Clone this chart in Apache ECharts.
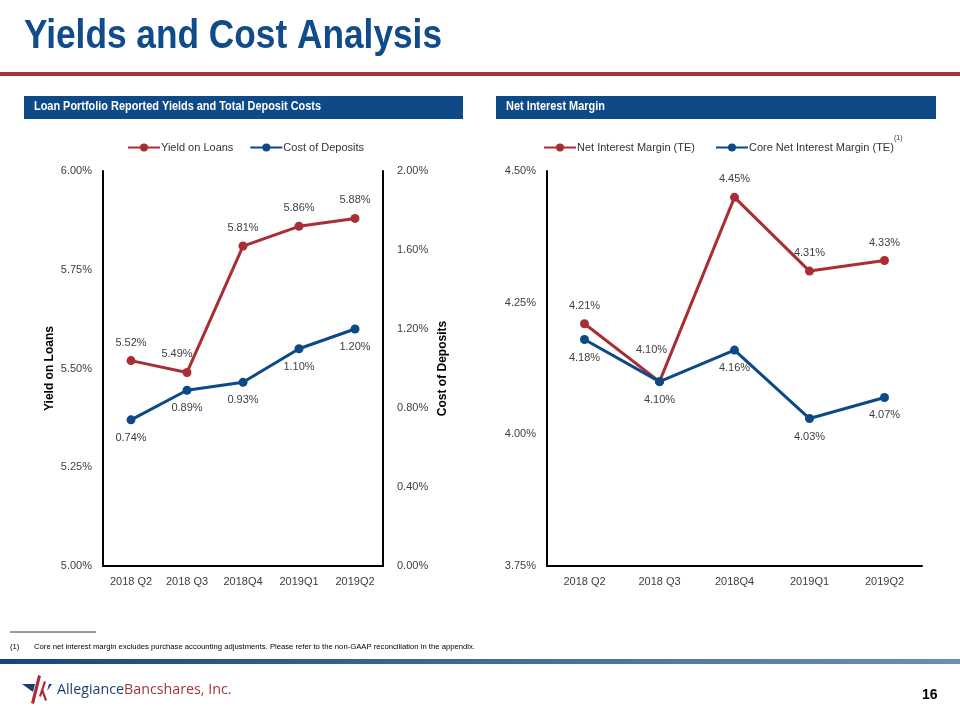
<!DOCTYPE html>
<html>
<head>
<meta charset="utf-8">
<script src="https://cdn.jsdelivr.net/npm/echarts@6/dist/echarts.min.js"></script>
<style>
html,body{margin:0;padding:0;background:#fff;}
#c{width:960px;height:720px;}
</style>
</head>
<body>
<div id="c"></div>
<script>
// ---- data ----
const quarters = ['2018 Q2', '2018 Q3', '2018Q4', '2019Q1', '2019Q2'];
const yieldOnLoans = [5.52, 5.49, 5.81, 5.86, 5.88];
const costOfDeposits = [0.74, 0.89, 0.93, 1.10, 1.20];
const nimTE = [4.21, 4.10, 4.45, 4.31, 4.33];
const coreNimTE = [4.18, 4.10, 4.16, 4.03, 4.07];

const RED = '#a92d35';
const BLUE = '#0b4a86';
const NAVY = '#0d4a87';
const FONT = '"Liberation Sans", Arial, sans-serif';
const NARROW = '"Liberation Sans Narrow", "Arial Narrow", "Liberation Sans", Arial, sans-serif';

const pct = p => p.value.toFixed(2) + '%';
const axisLabel = { color: '#404040', fontSize: 11, fontFamily: FONT };
const lbl = (pos, extra) => Object.assign({ show: true, position: pos, distance: 8, formatter: pct, color: '#404040', fontSize: 11, fontFamily: FONT }, extra || {});

function catAxis(gi) {
  return {
    type: 'category', gridIndex: gi, data: quarters, boundaryGap: true,
    axisLine: { show: true, lineStyle: { color: '#000', width: 2 } },
    axisTick: { show: false },
    axisLabel: Object.assign({ margin: 10 }, axisLabel)
  };
}

const chart = echarts.init(document.getElementById('c'));
chart.setOption({
  animation: false,
  textStyle: { fontFamily: FONT },
  grid: [
    { left: 103, right: 577, top: 171, bottom: 154 },
    { left: 547, right: 38, top: 171, bottom: 154 }
  ],
  legend: [
    { data: ['Yield on Loans', 'Cost of Deposits'], left: 122, top: 137, itemWidth: 32, itemHeight: 10, itemGap: 16,
      textStyle: { color: '#333', fontSize: 11, fontFamily: FONT, padding: [0, 0, 0, -4] } },
    { data: ['Net Interest Margin (TE)', 'Core Net Interest Margin (TE)'], left: 538, top: 137, itemWidth: 32, itemHeight: 10, itemGap: 20,
      textStyle: { color: '#333', fontSize: 11, fontFamily: FONT, padding: [0, 0, 0, -4] } }
  ],
  xAxis: [catAxis(0), catAxis(1)],
  yAxis: [
    { type: 'value', gridIndex: 0, min: 5, max: 6, interval: 0.25, position: 'left',
      name: 'Yield on Loans', nameLocation: 'middle', nameGap: 47, nameRotate: 90,
      nameTextStyle: { fontWeight: 'bold', fontSize: 12, color: '#000', fontFamily: NARROW },
      axisLine: { show: true, lineStyle: { color: '#000', width: 2 } }, axisTick: { show: false }, splitLine: { show: false },
      axisLabel: Object.assign({ margin: 11, formatter: v => v.toFixed(2) + '%' }, axisLabel) },
    { type: 'value', gridIndex: 0, min: 0, max: 2, interval: 0.4, position: 'right',
      name: 'Cost of Deposits', nameLocation: 'middle', nameGap: 54, nameRotate: 90,
      nameTextStyle: { fontWeight: 'bold', fontSize: 12, color: '#000', fontFamily: NARROW },
      axisLine: { show: true, lineStyle: { color: '#000', width: 2 } }, axisTick: { show: false }, splitLine: { show: false },
      axisLabel: Object.assign({ margin: 14, formatter: v => v.toFixed(2) + '%' }, axisLabel) },
    { type: 'value', gridIndex: 1, min: 3.75, max: 4.5, interval: 0.25, position: 'left',
      axisLine: { show: true, lineStyle: { color: '#000', width: 2 } }, axisTick: { show: false }, splitLine: { show: false },
      axisLabel: Object.assign({ margin: 11, formatter: v => v.toFixed(2) + '%' }, axisLabel) }
  ],
  series: [
    { name: 'Yield on Loans', type: 'line', xAxisIndex: 0, yAxisIndex: 0, data: yieldOnLoans,
      symbol: 'circle', symbolSize: 9, lineStyle: { color: RED, width: 3 }, itemStyle: { color: RED },
      label: lbl('top'),
      labelLayout: function (p) { return p.dataIndex === 1 ? { dx: -10 } : {}; }, z: 3 },
    { name: 'Cost of Deposits', type: 'line', xAxisIndex: 0, yAxisIndex: 1, data: costOfDeposits,
      symbol: 'circle', symbolSize: 9, lineStyle: { color: BLUE, width: 3 }, itemStyle: { color: BLUE },
      label: lbl('bottom'), z: 4 },
    { name: 'Net Interest Margin (TE)', type: 'line', xAxisIndex: 1, yAxisIndex: 2, data: nimTE,
      symbol: 'circle', symbolSize: 9, lineStyle: { color: RED, width: 3 }, itemStyle: { color: RED },
      label: lbl('top'),
      labelLayout: function (p) { return p.dataIndex === 1 ? { dy: -14, dx: -8 } : {}; }, z: 3 },
    { name: 'Core Net Interest Margin (TE)', type: 'line', xAxisIndex: 1, yAxisIndex: 2, data: coreNimTE,
      symbol: 'circle', symbolSize: 9, lineStyle: { color: BLUE, width: 3 }, itemStyle: { color: BLUE },
      label: lbl('bottom'), z: 4 }
  ],
  graphic: [
    { type: 'text', x: 24, y: 16, scaleX: 0.86, style: { text: 'Yields and Cost Analysis', fill: '#104b8a', font: 'bold 41px ' + NARROW } },
    { type: 'rect', shape: { x: 0, y: 72, width: 960, height: 4 }, style: { fill: '#a5333a' } },
    { type: 'rect', shape: { x: 24, y: 96, width: 439, height: 23 }, style: { fill: NAVY } },
    { type: 'text', x: 34, y: 101, scaleX: 0.91, style: { text: 'Loan Portfolio Reported Yields and Total Deposit Costs', fill: '#fff', font: 'bold 12px ' + NARROW } },
    { type: 'rect', shape: { x: 496, y: 96, width: 440, height: 23 }, style: { fill: NAVY } },
    { type: 'text', x: 506, y: 101, scaleX: 0.91, style: { text: 'Net Interest Margin', fill: '#fff', font: 'bold 12px ' + NARROW } },
    { type: 'text', x: 894, y: 135, style: { text: '(1)', fill: '#333', font: '7px ' + FONT } },
    { type: 'line', shape: { x1: 10, y1: 632, x2: 96, y2: 632 }, style: { stroke: '#000', lineWidth: 0.8 } },
    { type: 'text', x: 10, y: 643, style: { text: '(1)', fill: '#000', font: '7.7px ' + FONT } },
    { type: 'text', x: 34, y: 643, style: { text: 'Core net interest margin excludes purchase accounting adjustments. Please refer to the non-GAAP reconciliation in the appendix.', fill: '#000', font: '7.7px ' + FONT } },
    { type: 'rect', shape: { x: 0, y: 659, width: 960, height: 5 },
      style: { fill: new echarts.graphic.LinearGradient(0, 0, 1, 0, [{ offset: 0, color: '#174777' }, { offset: 1, color: '#6a8fb3' }]) } },
    // logo mark
    { type: 'polygon', shape: { points: [[22, 684], [35, 684], [33, 692]] }, style: { fill: '#1d3f6e' } },
    { type: 'polygon', shape: { points: [[38, 675], [41, 676], [34, 704], [31, 703]] }, style: { fill: RED } },
    { type: 'polygon', shape: { points: [[44, 681], [46, 682], [41, 697], [39, 696]] }, style: { fill: RED } },
    { type: 'polygon', shape: { points: [[41, 690], [43, 689], [47, 700], [45, 701]] }, style: { fill: RED } },
    { type: 'polygon', shape: { points: [[49, 684], [52, 684], [47, 691]] }, style: { fill: '#1d3f6e' } },
    { type: 'text', x: 57, y: 682, scaleX: 0.95, style: { rich: {
        a: { fill: '#1d3f6e', font: '15px "Open Sans", Arial, sans-serif' },
        b: { fill: '#a8323a', font: '15px "Open Sans", Arial, sans-serif' } },
        text: '{a|Allegiance}{b|Bancshares, Inc.}' } },
    { type: 'text', x: 922, y: 688, style: { text: '16', fill: '#000', font: 'bold 14px ' + FONT } }
  ]
});
</script>
</body>
</html>
